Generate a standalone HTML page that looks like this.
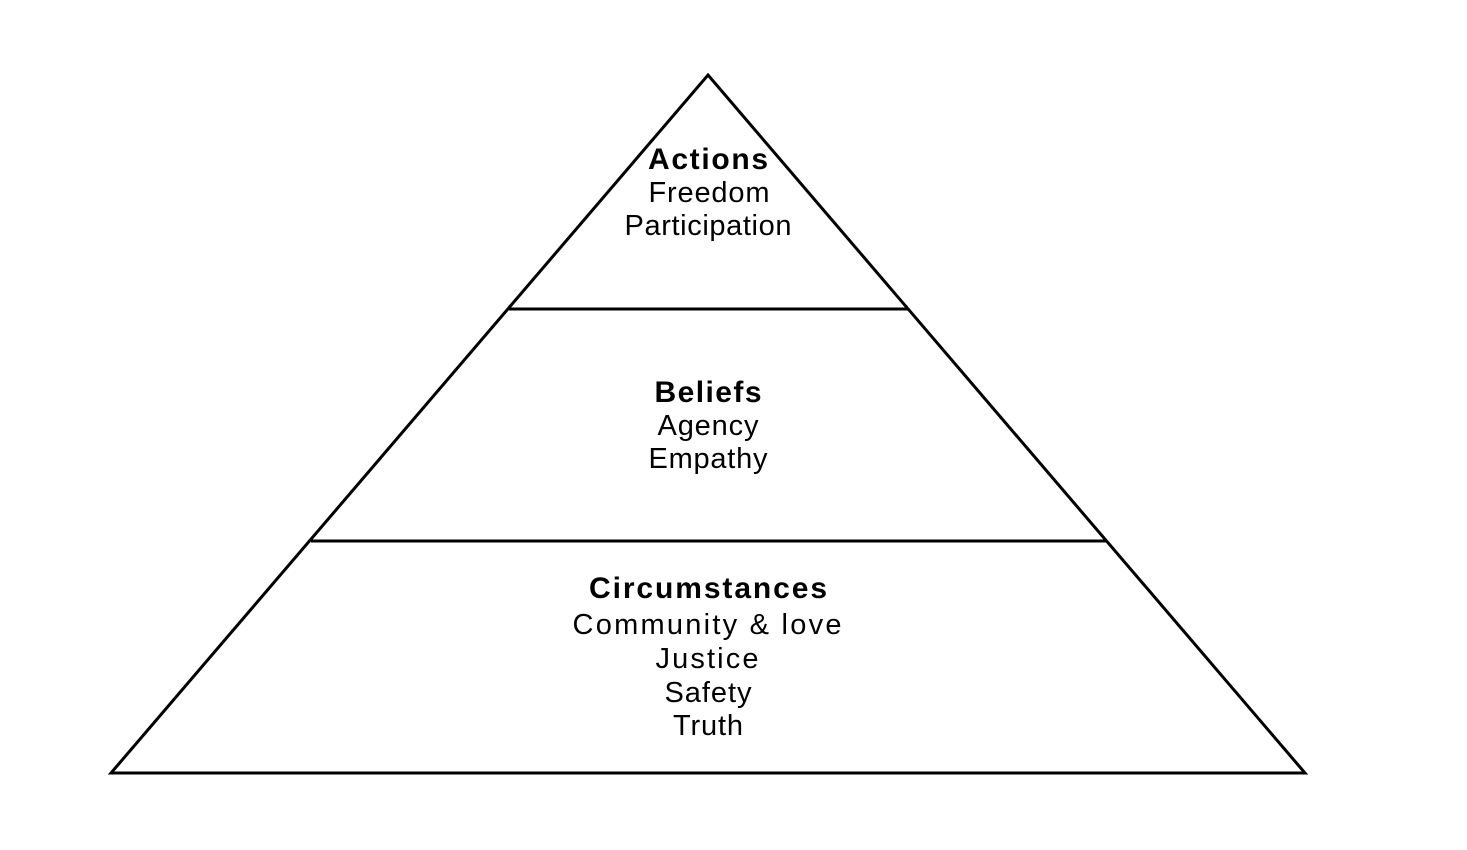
<!DOCTYPE html>
<html><head><meta charset="utf-8"><style>html,body{margin:0;padding:0;background:#fff;}svg{display:block}</style></head>
<body>
<svg width="1467" height="850" viewBox="0 0 1467 850" xmlns="http://www.w3.org/2000/svg">
<rect width="1467" height="850" fill="#fff"/>
<polygon points="708,75 1305,773 111,773" fill="none" stroke="#000" stroke-width="3" stroke-linejoin="miter"/>
<line x1="509" y1="309" x2="908" y2="309" stroke="#000" stroke-width="3"/>
<line x1="311" y1="541" x2="1106" y2="541" stroke="#000" stroke-width="3"/>
<g font-family="Liberation Sans, Arial, sans-serif" font-size="29" text-anchor="middle" fill="#000" lengthAdjust="spacing">
<text x="708" y="169" font-weight="bold" font-size="30" textLength="120" lengthAdjust="spacing">Actions</text>
<text x="709" y="202" textLength="121" lengthAdjust="spacing">Freedom</text>
<text x="708" y="235" textLength="167" lengthAdjust="spacing">Participation</text>
<text x="708" y="402" font-weight="bold" font-size="30" textLength="107" lengthAdjust="spacing">Beliefs</text>
<text x="708" y="435" textLength="101" lengthAdjust="spacing">Agency</text>
<text x="708" y="468" textLength="119" lengthAdjust="spacing">Empathy</text>
<text x="708" y="598" font-weight="bold" font-size="30" textLength="238" lengthAdjust="spacing">Circumstances</text>
<text x="707" y="634" textLength="269" lengthAdjust="spacing">Community &amp; love</text>
<text x="707" y="668" textLength="103" lengthAdjust="spacing">Justice</text>
<text x="708" y="702" textLength="87" lengthAdjust="spacing">Safety</text>
<text x="708" y="735" textLength="70" lengthAdjust="spacing">Truth</text>
</g>
</svg>
</body></html>
